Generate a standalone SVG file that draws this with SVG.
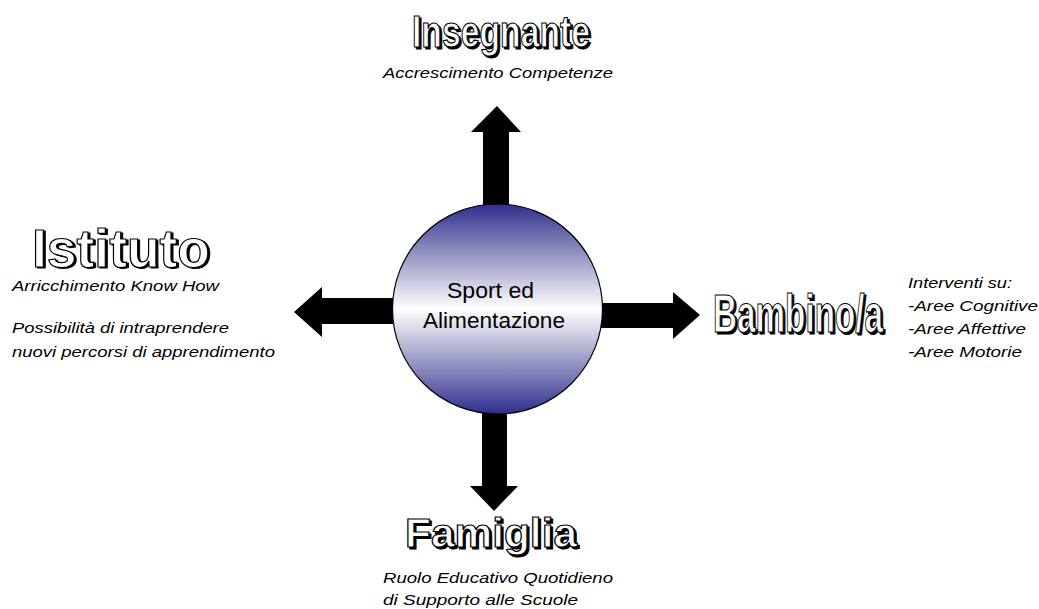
<svg xmlns="http://www.w3.org/2000/svg" width="1039" height="609" viewBox="0 0 1039 609">
<defs>
<linearGradient id="g" x1="0" y1="0" x2="0" y2="1">
<stop offset="0" stop-color="#2e2e8f"/>
<stop offset="0.22" stop-color="#8c8cbd"/>
<stop offset="0.5" stop-color="#ffffff"/>
<stop offset="0.78" stop-color="#8c8cbd"/>
<stop offset="1" stop-color="#2e2e8f"/>
</linearGradient>
<style>
.t{font-family:"Liberation Sans",Arial,sans-serif;font-weight:bold;}
.sh{fill:#000;stroke:#000;stroke-width:1;}
.fg{fill:#fff;stroke:#000;stroke-width:1.2;}
.s{font-family:"Liberation Sans",Arial,sans-serif;font-style:italic;font-size:15px;fill:#000;}
.c{font-family:"Liberation Sans",Arial,sans-serif;font-size:22px;fill:#000;}
.a{fill:#000;}
</style>
</defs>
<rect width="1039" height="609" fill="#fff"/>
<g id="connectors">
<polygon class="a" points="483,210 483,132 471,132 497,106 521,132 509,132 509,210"/>
<polygon class="a" points="482,405 482,486 470,486 494,511 518,486 507,486 507,405"/>
<polygon class="a" points="595,303 673,303 673,292 700,315 673,339 673,328 595,328"/>
<polygon class="a" points="398,298 322,298 322,287 294,312 322,337 322,324 398,324"/>
</g>
<g id="center">
<circle cx="497.5" cy="309" r="105" fill="url(#g)" stroke="#000" stroke-width="1.2"/>
<text class="c" x="447" y="298" textLength="87" lengthAdjust="spacingAndGlyphs">Sport ed</text>
<text class="c" x="423" y="328" textLength="142" lengthAdjust="spacingAndGlyphs">Alimentazione</text>
</g>
<g id="insegnante">
<text class="t sh" transform="translate(414,49) scale(0.767,1)" font-size="44" textLength="232" lengthAdjust="spacingAndGlyphs">Insegnante</text>
<text class="t fg" transform="translate(412,47) scale(0.767,1)" font-size="44" textLength="232" lengthAdjust="spacingAndGlyphs">Insegnante</text>
<text class="s" x="383" y="78" textLength="230" lengthAdjust="spacingAndGlyphs">Accrescimento Competenze</text>
</g>
<g id="istituto">
<text class="t sh" x="34" y="268" font-size="54" textLength="178" lengthAdjust="spacingAndGlyphs">Istituto</text>
<text class="t fg" x="32" y="267" font-size="54" textLength="178" lengthAdjust="spacingAndGlyphs">Istituto</text>
<text class="s" x="12" y="291" textLength="207" lengthAdjust="spacingAndGlyphs">Arricchimento Know How</text>
<text class="s" x="12" y="333" textLength="217" lengthAdjust="spacingAndGlyphs">Possibilità di intraprendere</text>
<text class="s" x="12" y="357" textLength="263" lengthAdjust="spacingAndGlyphs">nuovi percorsi di apprendimento</text>
</g>
<g id="bambino">
<text class="t sh" transform="translate(715,334) scale(0.616,1)" font-size="54" textLength="276" lengthAdjust="spacingAndGlyphs">Bambino/a</text>
<text class="t fg" transform="translate(713,332) scale(0.616,1)" font-size="54" textLength="276" lengthAdjust="spacingAndGlyphs">Bambino/a</text>
<text class="s" x="908" y="288" textLength="104" lengthAdjust="spacingAndGlyphs">Interventi su:</text>
<text class="s" x="908" y="311" textLength="130" lengthAdjust="spacingAndGlyphs">-Aree Cognitive</text>
<text class="s" x="908" y="334" textLength="118" lengthAdjust="spacingAndGlyphs">-Aree Affettive</text>
<text class="s" x="908" y="357" textLength="114" lengthAdjust="spacingAndGlyphs">-Aree Motorie</text>
</g>
<g id="famiglia">
<text class="t sh" x="407" y="549" font-size="40" textLength="172" lengthAdjust="spacingAndGlyphs">Famiglia</text>
<text class="t fg" x="405" y="547" font-size="40" textLength="172" lengthAdjust="spacingAndGlyphs">Famiglia</text>
<text class="s" x="383" y="583" textLength="230" lengthAdjust="spacingAndGlyphs">Ruolo Educativo Quotidieno</text>
<text class="s" x="383" y="605" textLength="195" lengthAdjust="spacingAndGlyphs">di Supporto alle Scuole</text>
</g>
</svg>
